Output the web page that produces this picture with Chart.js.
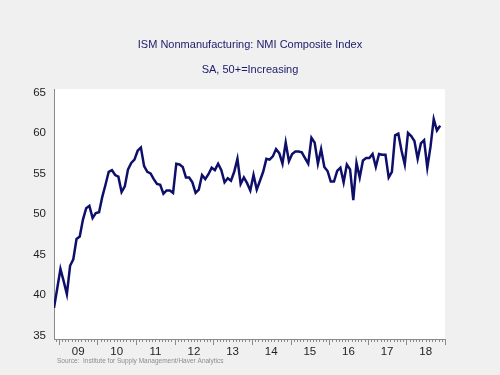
<!DOCTYPE html>
<html>
<head>
<meta charset="utf-8">
<script src="https://cdn.jsdelivr.net/npm/chart.js@4/dist/chart.umd.min.js"></script>
<style>
  html, body { margin: 0; padding: 0; background: #f0f0f0; }
  #wrap { width: 500px; height: 375px; }
  canvas { display: block; }
</style>
</head>
<body>
<div id="wrap"><canvas id="c" width="500" height="375"></canvas></div>
<script>
// ---- Data (monthly, first observation Nov 2008) ----
const firstYear = 2008;
const firstMonth = 11;
const nmiValues = [
  38.4, 40.8,
  43.2, 41.7, 40.1, 43.6, 44.4, 46.9, 47.2, 49.3, 50.7, 51.0, 49.5, 50.1,
  50.2, 52.1, 53.6, 55.2, 55.4, 54.8, 54.6, 52.7, 53.4, 55.5, 56.3, 56.7,
  57.8, 58.2, 55.9, 55.2, 55.0, 54.3, 53.7, 53.6, 52.5, 52.9, 52.9, 52.6,
  56.2, 56.1, 55.8, 54.5, 54.5, 53.9, 52.6, 53.0, 54.8, 54.3, 54.9, 55.7,
  55.4, 56.2, 55.4, 53.9, 54.4, 54.1, 55.2, 56.8, 53.7, 54.5, 53.8, 52.9,
  54.8, 53.0, 54.1, 55.2, 56.8, 56.7, 57.1, 58.0, 57.5, 56.2, 58.8, 56.5,
  57.4, 57.7, 57.7, 57.6, 56.9, 56.2, 59.4, 58.8, 56.2, 58.0, 55.8, 55.3,
  54.0, 54.0, 55.3, 55.7, 53.9, 56.1, 55.5, 51.7, 56.3, 54.5, 56.6, 56.9,
  56.9, 57.4, 55.8, 57.4, 57.3, 57.3, 54.5, 55.2, 59.7, 59.9, 57.8, 56.1,
  60.0, 59.6, 59.0, 56.8, 58.7, 59.1, 55.7, 58.3, 61.7, 60.3, 60.9
];
const axisStartYear = 2009;
const yearLabels = ['09', '10', '11', '12', '13', '14', '15', '16', '17', '18'];
const yTickValues = [35, 40, 45, 50, 55, 60, 65];
const titleLines = ['ISM Nonmanufacturing: NMI Composite Index', 'SA, 50+=Increasing'];
const sourceText = 'Source:  Institute for Supply Management/Haver Analytics';

// month offset (from Jan of axisStartYear), plotted at mid-month
const firstOffset = (firstYear - axisStartYear) * 12 + (firstMonth - 1);
const points = nmiValues.map((v, i) => ({ x: firstOffset + i + 0.5, y: v }));

const FONT = '"Liberation Sans", Arial, sans-serif';

const bgPlugin = {
  id: 'bg',
  beforeDraw(chart) {
    const { ctx, chartArea: a } = chart;
    ctx.save();
    ctx.fillStyle = '#f0f0f0';
    ctx.fillRect(0, 0, chart.width, chart.height);
    ctx.fillStyle = '#ffffff';
    ctx.fillRect(a.left, a.top, a.right - a.left, a.bottom - a.top);
    ctx.restore();
  }
};

const tickPlugin = {
  id: 'monthTicks',
  afterDraw(chart) {
    const { ctx, chartArea: a } = chart;
    const xs = chart.scales.x;
    ctx.save();
    ctx.strokeStyle = '#8a8a8a';
    ctx.lineWidth = 1;
    for (let m = Math.ceil(xs.min); m <= xs.max; m++) {
      const px = Math.round(xs.getPixelForValue(m)) + 0.5;
      const len = (m % 12 === 0) ? 6 : 3;
      ctx.beginPath();
      ctx.moveTo(px, a.bottom);
      ctx.lineTo(px, a.bottom + len);
      ctx.stroke();
    }
    // source note
    ctx.fillStyle = '#8c8c8c';
    ctx.font = '6.5px ' + FONT;
    ctx.textBaseline = 'middle';
    ctx.textAlign = 'left';
    ctx.fillText(sourceText, a.left + 3, 361);
    ctx.restore();
  }
};

new Chart(document.getElementById('c'), {
  type: 'line',
  data: {
    datasets: [{
      data: points,
      borderColor: '#0e0e6b',
      borderWidth: 2.5,
      pointRadius: 0,
      tension: 0,
      fill: false
    }]
  },
  options: {
    responsive: false,
    animation: false,
    layout: { padding: 0 },
    plugins: {
      legend: { display: false },
      tooltip: { enabled: false },
      title: {
        display: true,
        text: titleLines,
        color: '#1a1a6a',
        font: { family: FONT, size: 11, weight: 'normal', lineHeight: 25 / 11 },
        padding: { top: 32.5, bottom: 6.5 }
      }
    },
    scales: {
      x: {
        type: 'linear',
        min: firstOffset + 0.5,
        max: (yearLabels.length) * 12,
        grid: { display: false, drawTicks: false },
        border: { display: true, color: '#8a8a8a', width: 1 },
        afterBuildTicks(scale) {
          scale.ticks = yearLabels.map((_, i) => ({ value: i * 12 + 6 }));
        },
        ticks: {
          autoSkip: false,
          maxRotation: 0,
          padding: 6,
          color: '#1e1e1e',
          font: { family: FONT, size: 11.5 },
          callback: (v) => yearLabels[Math.round((v - 6) / 12)]
        },
        afterFit(scale) { scale.height = 36; }
      },
      y: {
        min: 34.56,
        max: 65.42,
        grid: { display: false, drawTicks: false },
        border: { display: true, color: '#8a8a8a', width: 1 },
        afterBuildTicks(scale) {
          scale.ticks = yTickValues.map(v => ({ value: v }));
        },
        ticks: {
          padding: 8,
          color: '#1e1e1e',
          font: { family: FONT, size: 11.5 }
        },
        afterFit(scale) { scale.width = 54; }
      },
      yRightSpace: {
        position: 'right',
        display: true,
        min: 34.56,
        max: 65.42,
        grid: { display: false, drawTicks: false },
        border: { display: false },
        ticks: { display: false },
        afterFit(scale) { scale.width = 55; }
      }
    }
  },
  plugins: [bgPlugin, tickPlugin]
});
</script>
</body>
</html>
